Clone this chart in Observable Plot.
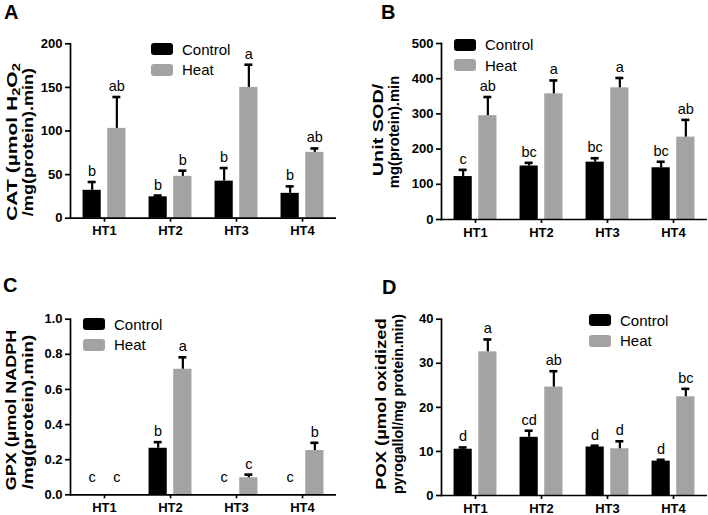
<!DOCTYPE html>
<html><head><meta charset="utf-8">
<script src="https://cdn.jsdelivr.net/npm/d3@7"></script>
<script src="https://cdn.jsdelivr.net/npm/@observablehq/plot@0.6"></script>
<style>
body{margin:0;background:#fff;}
#root{position:relative;width:708px;height:515px;overflow:hidden;font-family:"Liberation Sans",Arial,sans-serif;background:#fff;color:#000;}
.panel{position:absolute;}
.panel svg{overflow:visible;}
.panel svg [aria-label$="tick label"]{font-weight:bold;font-size:13px;}
.plabel{position:absolute;font-weight:bold;font-size:20px;line-height:1;}
.yline{position:absolute;font-weight:bold;font-size:14.5px;line-height:16px;white-space:nowrap;}
.legend{position:absolute;font-size:15px;}
.legend .row{display:flex;align-items:center;height:20.5px;}
.sw{width:22px;height:12px;border-radius:3px;margin-right:9px;}
sub{font-size:0.7em;vertical-align:-0.3em;line-height:0;}
</style></head><body><div id="root"></div>
<script>
const groups = ["HT1","HT2","HT3","HT4"];
const seriesNames = ["Control","Heat"];
const seriesColors = ["#000000","#a3a3a3"];

// Panel A: CAT
const catControl = [32, 24.5, 42.5, 28.5];
const catControlErr = [9.5, 1.5, 15, 8];
const catHeat = [103, 48, 150, 75.5];
const catHeatErr = [36, 6.5, 26, 4.5];
const catControlLetters = ["b","b","b","b"];
const catHeatLetters = ["ab","b","a","ab"];
const catTicks = [0, 50, 100, 150, 200];

// Panel B: SOD
const sodControl = [122, 152, 163, 147];
const sodControlErr = [19, 9, 11, 17];
const sodHeat = [295, 357, 374, 234];
const sodHeatErr = [53, 38, 28, 49];
const sodControlLetters = ["c","bc","bc","bc"];
const sodHeatLetters = ["ab","a","a","ab"];
const sodTicks = [0, 100, 200, 300, 400, 500];

// Panel C: GPX
const gpxControl = [0, 0.265, 0, 0];
const gpxControlErr = [0, 0.035, 0, 0];
const gpxHeat = [0, 0.715, 0.097, 0.252];
const gpxHeatErr = [0, 0.068, 0.018, 0.044];
const gpxControlLetters = ["c","b","c","c"];
const gpxHeatLetters = ["c","a","c","b"];
const gpxTicks = [0, 0.2, 0.4, 0.6, 0.8, 1.0];

// Panel D: POX
const poxControl = [10.5, 13.2, 11.0, 7.8];
const poxControlErr = [0.4, 1.5, 0.3, 0.3];
const poxHeat = [32.6, 24.6, 10.6, 22.4];
const poxHeatErr = [2.8, 3.6, 1.7, 1.8];
const poxControlLetters = ["d","cd","d","d"];
const poxHeatLetters = ["a","ab","d","bc"];
const poxTicks = [0, 10, 20, 30, 40];

const root = document.getElementById("root");

function rows(ctrl, ctrlErr, heat, heatErr, ctrlLet, heatLet) {
  const out = [];
  groups.forEach((g, i) => {
    out.push({group: g, series: "Control", mean: ctrl[i], err: ctrlErr[i], letter: ctrlLet[i]});
    out.push({group: g, series: "Heat", mean: heat[i], err: heatErr[i], letter: heatLet[i]});
  });
  return out;
}

function panel(cfg) {
  const {data, ticks, tickFormat, left, top, width, height, ml, mr, mt, mb} = cfg;
  const bw = (width - ml - mr) / groups.length;
  const barW = 18.7, half = 12.35, capW = 8.5;
  const marks = [];
  seriesNames.forEach((s, si) => {
    const off = si === 0 ? -half : half;
    const d = data.filter(r => r.series === s);
    const withErr = d.filter(r => r.err > 0);
    const barL = bw / 2 + off - barW / 2;
    const barR = bw - (bw / 2 + off + barW / 2);
    marks.push(Plot.barY(d, {x: "group", y: "mean", fill: seriesColors[si], insetLeft: barL, insetRight: barR}));
    marks.push(Plot.ruleX(withErr, {x: "group", y1: "mean", y2: r => r.mean + r.err, dx: off, stroke: "#000", strokeWidth: 2.2}));
    marks.push(Plot.tickY(withErr, {x: "group", y: r => r.mean + r.err, stroke: "#000", strokeWidth: 2.6,
      insetLeft: bw / 2 + off - capW / 2, insetRight: bw / 2 - off - capW / 2}));
    marks.push(Plot.text(d.filter(r => r.mean > 0), {x: "group", y: r => r.mean + r.err, text: "letter", dx: off, dy: -6,
      lineAnchor: "bottom", fontSize: 14.5, fill: "#000"}));
    marks.push(Plot.text(d.filter(r => r.mean === 0), {x: "group", y: r => r.mean, text: "letter", dx: off, dy: -13,
      lineAnchor: "bottom", fontSize: 14.5, fill: "#000"}));
  });
  marks.push(Plot.ruleY([0], {stroke: "#000", strokeWidth: 1.7}));
  marks.push(Plot.frame({anchor: "left", stroke: "#000", strokeWidth: 1.7}));
  marks.push(Plot.axisY({ticks, tickFormat, tickSize: 5, tickPadding: 3, label: null, strokeWidth: 1.7, fontSize: 13}));
  marks.push(Plot.axisX({tickSize: 4, tickPadding: 4, label: null, strokeWidth: 1.7, fontSize: 13}));
  const svg = Plot.plot({
    width, height, marginLeft: ml, marginRight: mr, marginTop: mt, marginBottom: mb,
    style: {fontFamily: '"Liberation Sans", Arial, sans-serif', background: "transparent", color: "#000"},
    x: {domain: groups, padding: 0, axis: null},
    y: {domain: [0, ticks[ticks.length - 1]], axis: null},
    marks
  });
  const div = document.createElement("div");
  div.className = "panel";
  div.style.left = left + "px";
  div.style.top = top + "px";
  div.appendChild(svg);
  root.appendChild(div);
}

function addLabel(txt, x, y) {
  const el = document.createElement("div");
  el.className = "plabel";
  el.textContent = txt;
  el.style.left = x + "px"; el.style.top = y + "px";
  root.appendChild(el);
}
// each title line: html, centre x, centre y, drawn length along the text
function addTitleLine(html, cx, cy, len) {
  const el = document.createElement("div");
  el.className = "yline";
  el.innerHTML = html;
  el.style.left = cx + "px"; el.style.top = cy + "px";
  root.appendChild(el);
  const w = el.offsetWidth;
  el.style.transform = `translate(-50%,-50%) rotate(-90deg) scaleX(${len / w})`;
}
function addLegend(x, y) {
  const el = document.createElement("div");
  el.className = "legend";
  el.style.left = x + "px"; el.style.top = y + "px";
  seriesNames.forEach((s, i) => {
    const r = document.createElement("div");
    r.className = "row";
    const sw = document.createElement("div");
    sw.className = "sw"; sw.style.background = seriesColors[i];
    const t = document.createElement("span"); t.textContent = s;
    r.appendChild(sw); r.appendChild(t); el.appendChild(r);
  });
  root.appendChild(el);
}

panel({data: rows(catControl, catControlErr, catHeat, catHeatErr, catControlLetters, catHeatLetters),
  ticks: catTicks, tickFormat: d3.format("d"), left: 0, top: 0, width: 354, height: 257, ml: 70, mr: 18, mt: 43.3, mb: 39.3});
panel({data: rows(sodControl, sodControlErr, sodHeat, sodHeatErr, sodControlLetters, sodHeatLetters),
  ticks: sodTicks, tickFormat: d3.format("d"), left: 354, top: 0, width: 354, height: 257, ml: 87, mr: 1, mt: 43, mb: 38});
panel({data: rows(gpxControl, gpxControlErr, gpxHeat, gpxHeatErr, gpxControlLetters, gpxHeatLetters),
  ticks: gpxTicks, tickFormat: d3.format(".1f"), left: 0, top: 257, width: 354, height: 258, ml: 70, mr: 18, mt: 61.7, mb: 20.7});
panel({data: rows(poxControl, poxControlErr, poxHeat, poxHeatErr, poxControlLetters, poxHeatLetters),
  ticks: poxTicks, tickFormat: d3.format("d"), left: 354, top: 257, width: 354, height: 258, ml: 87, mr: 1, mt: 61.7, mb: 20});

addLabel("A", 4, 2);
addLabel("B", 381, 2);
addLabel("C", 3, 275);
addLabel("D", 382, 277);

addTitleLine("CAT (µmol H<sub>2</sub>O<sub>2</sub>", 11.5, 142, 158);
addTitleLine("/mg(protein).min)", 27.5, 142, 148);
addTitleLine("Unit SOD/", 377.5, 130, 93);
addTitleLine("mg(protein).min", 394, 132, 112);
addTitleLine("GPX (µmol NADPH", 10.5, 410, 160);
addTitleLine("/mg(protein).min)", 27.5, 412, 154);
addTitleLine("POX (µmol oxidized", 381, 404, 172);
addTitleLine("pyrogallol/mg protein.min)", 397.5, 404, 180);

addLegend(151, 39);
addLegend(454, 34.5);
addLegend(83, 314);
addLegend(589, 310);
</script>
</body></html>
